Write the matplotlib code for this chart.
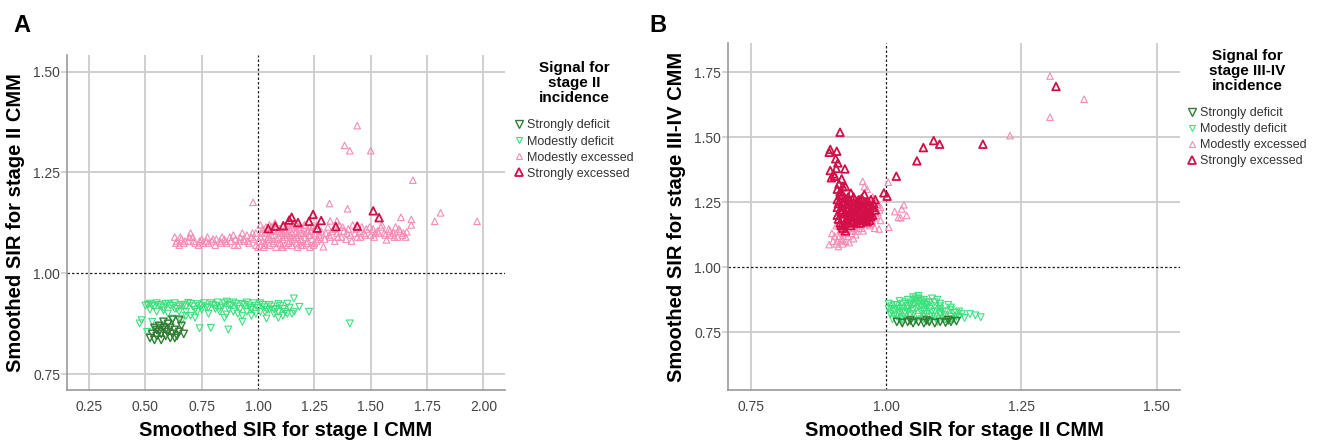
import numpy as np
import matplotlib.pyplot as plt
from matplotlib.lines import Line2D

plt.rcParams['font.family'] = ['Liberation Sans', 'DejaVu Sans']

# ---------------- data ----------------
labels = ['Strongly deficit', 'Modestly deficit', 'Modestly excessed', 'Strongly excessed']

# panel A: x = smoothed SIR stage I, y = smoothed SIR stage II
a_mod_exc_x = [0.63, 0.64, 0.65, 0.66, 0.67, 0.69, 0.70, 0.71, 0.72, 0.74, 0.75, 0.77, 0.78, 0.80, 0.81,
               0.83, 0.84, 0.85, 0.86, 0.88, 0.89, 0.90, 0.91, 0.92, 0.93, 0.94, 0.95, 0.96, 0.97, 0.98,
               0.99, 0.99,
               1.00, 1.01, 1.02, 1.03, 1.03, 1.04, 1.05, 1.05, 1.06, 1.07, 1.07, 1.08, 1.08, 1.09, 1.10,
               1.10, 1.11, 1.11, 1.12, 1.12, 1.13, 1.13, 1.14, 1.14, 1.15, 1.15, 1.16, 1.16, 1.17, 1.17,
               1.18, 1.18, 1.19, 1.20, 1.20, 1.21, 1.21, 1.22, 1.22, 1.23, 1.23, 1.24, 1.24, 1.25, 1.26,
               1.26, 1.27, 1.28, 1.02, 1.06, 1.09, 1.12, 1.14, 1.17, 1.19, 1.04, 1.07, 1.11, 1.15, 1.25,
               1.29, 1.30, 1.31, 1.32, 1.33, 1.34, 1.35, 1.36, 1.37, 1.38, 1.39, 1.40, 1.41, 1.42, 1.43,
               1.44, 1.45, 1.46, 1.47, 1.48, 1.50, 1.51, 1.52, 1.53, 1.55, 1.56, 1.57, 1.58, 1.59, 1.60,
               1.61, 1.62, 1.63, 1.64, 1.66, 1.68,
               1.44, 1.384, 1.407, 1.50, 1.687, 0.978, 1.317, 1.397, 1.81, 1.972, 1.784, 1.68, 1.634,
               1.35, 1.32,
               1.005, 1.015, 1.025, 1.035, 1.045, 1.055, 1.065, 1.075, 1.085, 1.095, 1.105, 1.115, 1.125, 1.135,
               1.145, 1.155, 1.165, 1.175, 1.185, 1.195, 1.205, 1.215, 1.225, 1.235, 1.245, 1.255, 1.265, 1.275,
               1.01, 1.03, 1.05, 1.07, 1.09, 1.11, 1.13, 1.15, 1.17, 1.19, 1.21, 1.23,
               0.635, 0.655, 0.675, 0.695, 0.715, 0.735, 0.755, 0.775, 0.795, 0.815, 0.835, 0.855, 0.875, 0.895,
               0.915, 0.935, 0.955, 0.975,
               1.295, 1.315, 1.335, 1.355, 1.375, 1.395, 1.415, 1.435, 1.455, 1.475, 1.495, 1.515, 1.535, 1.545,
               1.565, 1.585, 1.605, 1.625, 1.645, 1.655]
a_mod_exc_y = [1.09, 1.08, 1.07, 1.085, 1.075, 1.08, 1.10, 1.09, 1.075, 1.08, 1.085, 1.08, 1.075, 1.085, 1.07,
               1.08, 1.09, 1.085, 1.075, 1.08, 1.095, 1.085, 1.07, 1.09, 1.10, 1.08, 1.095, 1.075, 1.09, 1.085,
               1.07, 1.10,
               1.065, 1.09, 1.11, 1.075, 1.10, 1.085, 1.12, 1.07, 1.095, 1.105, 1.08, 1.065, 1.115, 1.09, 1.10,
               1.075, 1.12, 1.085, 1.07, 1.105, 1.095, 1.125, 1.08, 1.11, 1.10, 1.07, 1.085, 1.12, 1.105, 1.075,
               1.095, 1.115, 1.085, 1.10, 1.07, 1.12, 1.09, 1.08, 1.105, 1.065, 1.095, 1.115, 1.085, 1.10, 1.08,
               1.12, 1.095, 1.105, 1.08, 1.115, 1.075, 1.09, 1.095, 1.09, 1.10, 1.10, 1.095, 1.10, 1.115, 1.075,
               1.066, 1.10, 1.115, 1.09, 1.105, 1.08, 1.10, 1.12, 1.09, 1.105, 1.085, 1.11, 1.095, 1.12, 1.10,
               1.09, 1.105, 1.115, 1.10, 1.11, 1.095, 1.11, 1.10, 1.105, 1.12, 1.10, 1.083, 1.11, 1.095, 1.10,
               1.115, 1.09, 1.105, 1.095, 1.103, 1.12,
               1.366, 1.317, 1.304, 1.304, 1.231, 1.176, 1.173, 1.160, 1.150, 1.129, 1.129, 1.134, 1.139,
               1.13, 1.13,
               1.08, 1.10, 1.065, 1.115, 1.09, 1.105, 1.075, 1.125, 1.085, 1.11, 1.065, 1.095, 1.115, 1.075,
               1.09, 1.125, 1.10, 1.065, 1.11, 1.08, 1.12, 1.075, 1.095, 1.105, 1.07, 1.11, 1.085, 1.09,
               1.12, 1.07, 1.085, 1.115, 1.105, 1.065, 1.10, 1.08, 1.12, 1.07, 1.10, 1.115,
               1.075, 1.09, 1.08, 1.09, 1.08, 1.07, 1.075, 1.09, 1.08, 1.085, 1.075, 1.08, 1.09, 1.07,
               1.08, 1.085, 1.08, 1.10,
               1.085, 1.095, 1.11, 1.09, 1.115, 1.10, 1.08, 1.11, 1.09, 1.095, 1.115, 1.09, 1.10, 1.115,
               1.095, 1.105, 1.09, 1.11, 1.10, 1.09]
a_str_exc_x = [1.045, 1.076, 1.112, 1.138, 1.149, 1.177, 1.226, 1.244, 1.28, 1.263, 1.345, 1.44, 1.511, 1.537]
a_str_exc_y = [1.111, 1.117, 1.118, 1.132, 1.139, 1.126, 1.129, 1.146, 1.131, 1.112, 1.116, 1.117, 1.155, 1.138]

a_mod_def_x = [0.50, 0.52, 0.54, 0.56, 0.58, 0.60, 0.62, 0.64, 0.66, 0.68, 0.70, 0.72, 0.74, 0.76, 0.78,
               0.80, 0.82, 0.84, 0.86, 0.88, 0.90, 0.92, 0.94, 0.96, 0.98, 1.00, 1.02, 1.04, 1.06, 1.08,
               1.10, 1.12, 1.14, 1.159, 1.183, 1.226, 1.16, 1.13,
               0.55, 0.60, 0.65, 0.70, 0.73, 0.78, 0.83, 0.87, 0.91, 0.95, 0.99, 1.03, 1.07, 1.11,
               0.474, 0.483, 0.507, 0.62, 0.66, 0.68, 0.74, 0.79, 0.868, 0.93, 1.037, 1.407, 0.72, 0.85,
               0.97, 1.09, 0.57, 0.53,
               0.51, 0.53, 0.55, 0.57, 0.59, 0.61, 0.63, 0.65, 0.67, 0.69, 0.71, 0.73, 0.75, 0.77, 0.79,
               0.81, 0.83, 0.85, 0.87, 0.89, 0.91, 0.93, 0.95, 0.97, 0.99, 1.01, 1.03, 1.05, 1.07, 1.09, 1.11,
               0.52, 0.58, 0.63, 0.68, 0.75, 0.81, 0.86, 0.89, 0.93, 0.97, 1.01, 1.05, 1.09, 1.13, 1.15]
a_mod_def_y = [0.920, 0.925, 0.918, 0.922, 0.915, 0.925, 0.920, 0.912, 0.922, 0.918, 0.925, 0.910, 0.920, 0.926, 0.915,
               0.922, 0.928, 0.918, 0.930, 0.920, 0.925, 0.912, 0.922, 0.918, 0.926, 0.915, 0.922, 0.910, 0.918, 0.912,
               0.920, 0.905, 0.915, 0.938, 0.917, 0.905, 0.905, 0.925,
               0.905, 0.900, 0.905, 0.895, 0.905, 0.900, 0.905, 0.910, 0.900, 0.905, 0.900, 0.905, 0.900, 0.895,
               0.876, 0.884, 0.855, 0.888, 0.882, 0.895, 0.864, 0.865, 0.861, 0.880, 0.888, 0.876, 0.890, 0.890,
               0.895, 0.890, 0.870, 0.880,
               0.922, 0.920, 0.926, 0.918, 0.924, 0.920, 0.926, 0.918, 0.922, 0.927, 0.918, 0.924, 0.920, 0.916, 0.926,
               0.920, 0.914, 0.926, 0.922, 0.928, 0.918, 0.924, 0.928, 0.914, 0.920, 0.926, 0.916, 0.922, 0.910, 0.924,
               0.912,
               0.910, 0.908, 0.912, 0.905, 0.910, 0.912, 0.898, 0.905, 0.895, 0.910, 0.905, 0.910, 0.905, 0.900, 0.900]
a_str_def_x = [0.52, 0.53, 0.54, 0.55, 0.55, 0.56, 0.57, 0.57, 0.58, 0.58, 0.59, 0.60, 0.60, 0.61, 0.61,
               0.62, 0.62, 0.63, 0.64, 0.65, 0.66, 0.67, 0.56, 0.59, 0.63, 0.54, 0.65]
a_str_def_y = [0.840, 0.850, 0.835, 0.860, 0.845, 0.870, 0.850, 0.835, 0.865, 0.880, 0.845, 0.855, 0.875, 0.840, 0.865,
               0.850, 0.885, 0.860, 0.845, 0.855, 0.870, 0.850, 0.855, 0.860, 0.840, 0.865, 0.885]

# panel B: x = smoothed SIR stage II, y = smoothed SIR stage III-IV
b_str_exc_x = [0.91, 0.91, 0.91, 0.915, 0.915, 0.92, 0.92, 0.92, 0.92, 0.92, 0.925, 0.925, 0.93, 0.93, 0.93,
               0.93, 0.935, 0.935, 0.935, 0.94, 0.94, 0.94, 0.945, 0.945, 0.95, 0.95, 0.95, 0.955, 0.955, 0.955,
               0.96, 0.96, 0.96, 0.965, 0.965, 0.965, 0.97, 0.97, 0.975, 0.975, 0.98, 0.94, 0.925, 0.91, 0.945,
               0.97, 0.98, 0.918, 0.928, 0.952,
               1.314, 1.179, 1.099, 1.088, 1.069, 1.057, 1.019, 0.996, 1.002, 0.915, 0.895, 0.897, 0.909, 0.907,
               0.911, 0.897, 0.903, 0.899, 0.924, 0.918, 0.913,
               0.912, 0.917, 0.922, 0.927, 0.932, 0.937, 0.942, 0.947, 0.952, 0.957, 0.962, 0.967, 0.972, 0.977,
               0.912, 0.917, 0.922, 0.927, 0.932, 0.937, 0.942, 0.947, 0.952, 0.957, 0.962, 0.967, 0.972,
               0.915, 0.925, 0.935, 0.945, 0.955, 0.965, 0.92, 0.93, 0.94, 0.95, 0.96, 0.905, 0.908]
b_str_exc_y = [1.20, 1.23, 1.26, 1.17, 1.29, 1.15, 1.19, 1.22, 1.25, 1.28, 1.31, 1.21, 1.17, 1.20, 1.24,
               1.27, 1.19, 1.22, 1.16, 1.18, 1.21, 1.25, 1.20, 1.23, 1.19, 1.22, 1.26, 1.18, 1.21, 1.24,
               1.20, 1.23, 1.28, 1.19, 1.22, 1.25, 1.21, 1.24, 1.20, 1.23, 1.26, 1.27, 1.14, 1.30, 1.17,
               1.18, 1.22, 1.235, 1.18, 1.245,
               1.695, 1.473, 1.473, 1.487, 1.46, 1.409, 1.35, 1.286, 1.273, 1.519, 1.442, 1.453, 1.446, 1.417,
               1.401, 1.372, 1.359, 1.344, 1.378, 1.34, 1.32,
               1.185, 1.215, 1.165, 1.245, 1.205, 1.175, 1.235, 1.185, 1.21, 1.255, 1.185, 1.235, 1.195, 1.245,
               1.245, 1.16, 1.205, 1.185, 1.255, 1.24, 1.195, 1.255, 1.17, 1.19, 1.215, 1.205, 1.26,
               1.275, 1.265, 1.285, 1.215, 1.265, 1.175, 1.31, 1.23, 1.225, 1.245, 1.25, 1.35, 1.38]
b_mod_exc_x = [1.303, 1.366, 1.303, 1.229, 1.004, 1.016, 1.033, 1.029, 1.038, 1.023, 1.027, 1.005, 0.987, 0.979,
               0.895, 0.957, 0.96,
               0.905, 0.91, 0.912, 0.915, 0.918, 0.92, 0.92, 0.925, 0.93, 0.93, 0.935, 0.94, 0.94, 0.945,
               0.95, 0.955, 0.96, 0.97, 0.975, 0.98, 0.985, 0.985, 0.99, 0.99, 0.98, 0.975, 0.965, 0.90, 0.908,
               0.902, 0.908, 0.914, 0.92, 0.926, 0.932, 0.938, 0.944, 0.95, 0.958, 0.966, 0.974, 0.982, 0.988]
b_mod_exc_y = [1.735, 1.646, 1.577, 1.506, 1.327, 1.214, 1.24, 1.224, 1.199, 1.192, 1.19, 1.154, 1.147, 1.15,
               1.087, 1.33, 1.31,
               1.12, 1.10, 1.08, 1.14, 1.11, 1.09, 1.13, 1.10, 1.12, 1.15, 1.13, 1.11, 1.15, 1.14,
               1.16, 1.15, 1.17, 1.16, 1.17, 1.19, 1.21, 1.24, 1.18, 1.23, 1.25, 1.27, 1.30, 1.13, 1.16,
               1.10, 1.09, 1.12, 1.105, 1.135, 1.095, 1.14, 1.125, 1.15, 1.14, 1.165, 1.18, 1.20, 1.22]
b_mod_def_x = [1.005, 1.005, 1.008, 1.01, 1.012, 1.015, 1.02, 1.02, 1.025, 1.03, 1.03, 1.035, 1.035, 1.04, 1.04,
               1.045, 1.045, 1.05, 1.05, 1.055, 1.055, 1.06, 1.06, 1.065, 1.065, 1.07, 1.07, 1.075, 1.075, 1.08,
               1.08, 1.085, 1.09, 1.09, 1.095, 1.10, 1.10, 1.105, 1.11, 1.115, 1.12, 1.12, 1.125, 1.13, 1.135,
               1.14, 1.155, 1.165, 1.175, 1.06, 1.05, 1.085, 1.045, 1.025, 1.015, 1.095, 1.11, 1.03, 1.07, 1.10,
               1.01, 1.02, 1.03, 1.04, 1.05, 1.06, 1.07, 1.08, 1.09, 1.10, 1.11, 1.12, 1.13,
               1.015, 1.025, 1.035, 1.045, 1.055, 1.065, 1.075, 1.085, 1.095, 1.105, 1.115, 1.125, 1.135,
               1.04, 1.05, 1.06, 1.07, 1.08, 1.055, 1.065, 1.075, 1.145, 1.025, 1.09, 1.10, 1.12, 1.03]
b_mod_def_y = [0.840, 0.860, 0.820, 0.850, 0.800, 0.835, 0.810, 0.855, 0.825, 0.790, 0.845, 0.865, 0.810, 0.830, 0.875,
               0.800, 0.850, 0.820, 0.885, 0.840, 0.795, 0.865, 0.810, 0.830, 0.850, 0.800, 0.875, 0.820, 0.845, 0.865,
               0.795, 0.830, 0.810, 0.850, 0.875, 0.820, 0.840, 0.800, 0.830, 0.855, 0.810, 0.835, 0.800, 0.825, 0.810,
               0.820, 0.820, 0.815, 0.808, 0.890, 0.875, 0.880, 0.860, 0.870, 0.815, 0.800, 0.815, 0.830, 0.835, 0.860,
               0.830, 0.840, 0.860, 0.850, 0.835, 0.845, 0.860, 0.810, 0.830, 0.850, 0.800, 0.845, 0.810,
               0.855, 0.800, 0.825, 0.815, 0.870, 0.800, 0.855, 0.810, 0.790, 0.830, 0.800, 0.825, 0.830,
               0.840, 0.855, 0.880, 0.820, 0.840, 0.880, 0.870, 0.865, 0.805, 0.840, 0.865, 0.825, 0.800, 0.800]
b_str_def_x = [1.02, 1.03, 1.04, 1.05, 1.06, 1.07, 1.08, 1.09, 1.10, 1.11, 1.12, 1.13, 1.045, 1.075, 1.115]
b_str_def_y = [0.790, 0.785, 0.790, 0.785, 0.790, 0.785, 0.790, 0.785, 0.790, 0.787, 0.790, 0.793, 0.795, 0.795, 0.796]

# ---------------- styles ----------------
c_str_def = '#2f7d32'
c_mod_def = '#3ee07e'
c_mod_exc = '#f48cb6'
c_str_exc = '#d20f46'
grid_c = '#cccccc'

fig = plt.figure(figsize=(13.2, 4.41), dpi=100)
axA = fig.add_axes([0.0508, 0.1156, 0.3318, 0.7596])
axB = fig.add_axes([0.5515, 0.1156, 0.3424, 0.7868])


def style_axes(ax, xticks, yticks):
    ax.set_xticks(xticks)
    ax.set_yticks(yticks)
    ax.set_xticklabels(['%.2f' % t for t in xticks])
    ax.set_yticklabels(['%.2f' % t for t in yticks])
    for t in xticks:
        if abs(t - 1.0) > 1e-9:
            ax.axvline(t, color=grid_c, lw=1.3, zorder=0)
    for t in yticks:
        if abs(t - 1.0) > 1e-9:
            ax.axhline(t, color=grid_c, lw=1.3, zorder=0)
    ax.axvline(1.0, color='#222222', lw=0.9, ls=(0, (2, 1.6)), zorder=1)
    ax.axhline(1.0, color='#222222', lw=0.9, ls=(0, (2, 1.6)), zorder=1)
    for s in ['top', 'right']:
        ax.spines[s].set_visible(False)
    for s in ['left', 'bottom']:
        ax.spines[s].set_color('#999999')
        ax.spines[s].set_linewidth(1.2)
    ax.tick_params(axis='x', length=0, pad=7, labelsize=10, labelcolor='#444444')
    ax.tick_params(axis='y', length=4, color=grid_c, width=1.2, pad=1, labelsize=10, labelcolor='#444444')


def draw(ax, sd, md, me, se):
    ax.scatter(md[0], md[1], marker='v', s=24, facecolors='none', edgecolors=c_mod_def, linewidths=0.8, zorder=2)
    ax.scatter(sd[0], sd[1], marker='v', s=28, facecolors='none', edgecolors=c_str_def, linewidths=1.0, zorder=3)
    ax.scatter(me[0], me[1], marker='^', s=22, facecolors='none', edgecolors=c_mod_exc, linewidths=0.8, zorder=2)
    ax.scatter(se[0], se[1], marker='^', s=30, facecolors='none', edgecolors=c_str_exc, linewidths=1.3, zorder=3)


draw(axA, (a_str_def_x, a_str_def_y), (a_mod_def_x, a_mod_def_y),
     (a_mod_exc_x, a_mod_exc_y), (a_str_exc_x, a_str_exc_y))
draw(axB, (b_str_def_x, b_str_def_y), (b_mod_def_x, b_mod_def_y),
     (b_mod_exc_x, b_mod_exc_y), (b_str_exc_x, b_str_exc_y))

style_axes(axA, [0.25, 0.5, 0.75, 1.0, 1.25, 1.5, 1.75, 2.0], [0.75, 1.0, 1.25, 1.5])
axA.set_xlim(0.152, 2.096)
axA.set_ylim(0.711, 1.541)
style_axes(axB, [0.75, 1.0, 1.25, 1.5], [0.75, 1.0, 1.25, 1.5, 1.75])
axB.set_xlim(0.708, 1.543)
axB.set_ylim(0.528, 1.862)

lab_kw = dict(fontsize=14.5, fontweight='bold')
axA.set_xlabel('Smoothed SIR for stage I CMM', labelpad=5, **lab_kw)
axA.set_ylabel('Smoothed SIR for stage II CMM', labelpad=6, **lab_kw)
axB.set_xlabel('Smoothed SIR for stage II CMM', labelpad=5, **lab_kw)
axB.set_ylabel('Smoothed SIR for stage III-IV CMM', labelpad=6, **lab_kw)

fig.text(0.010, 0.968, 'A', fontsize=17, fontweight='bold', va='top')
fig.text(0.492, 0.968, 'B', fontsize=17, fontweight='bold', va='top')


def make_legend(ax, title, anchor):
    handles = [
        Line2D([], [], ls='none', marker='v', ms=6, mfc='none', mec=c_str_def, mew=1.0),
        Line2D([], [], ls='none', marker='v', ms=4.5, mfc='none', mec=c_mod_def, mew=0.8),
        Line2D([], [], ls='none', marker='^', ms=4.5, mfc='none', mec=c_mod_exc, mew=0.8),
        Line2D([], [], ls='none', marker='^', ms=6, mfc='none', mec=c_str_exc, mew=1.3),
    ]
    leg = ax.legend(handles, labels, title=title, loc='upper left', bbox_to_anchor=anchor,
                    bbox_transform=fig.transFigure, frameon=False, fontsize=9,
                    handlelength=0.6, handletextpad=0.4, labelspacing=0.33, borderaxespad=0,
                    borderpad=0, title_fontproperties={'weight': 'bold', 'size': 11})
    leg._legend_box.sep = 10
    leg.get_title().set_multialignment('center')
    leg.get_title().set_linespacing(1.12)
    for t in leg.get_texts():
        t.set_color('#333333')
    return leg


make_legend(axA, 'Signal for\nstage II\nincidence', (0.390, 0.862))
make_legend(axB, 'Signal for\nstage III-IV\nincidence', (0.900, 0.890))

fig.savefig('out.png', dpi=100)
